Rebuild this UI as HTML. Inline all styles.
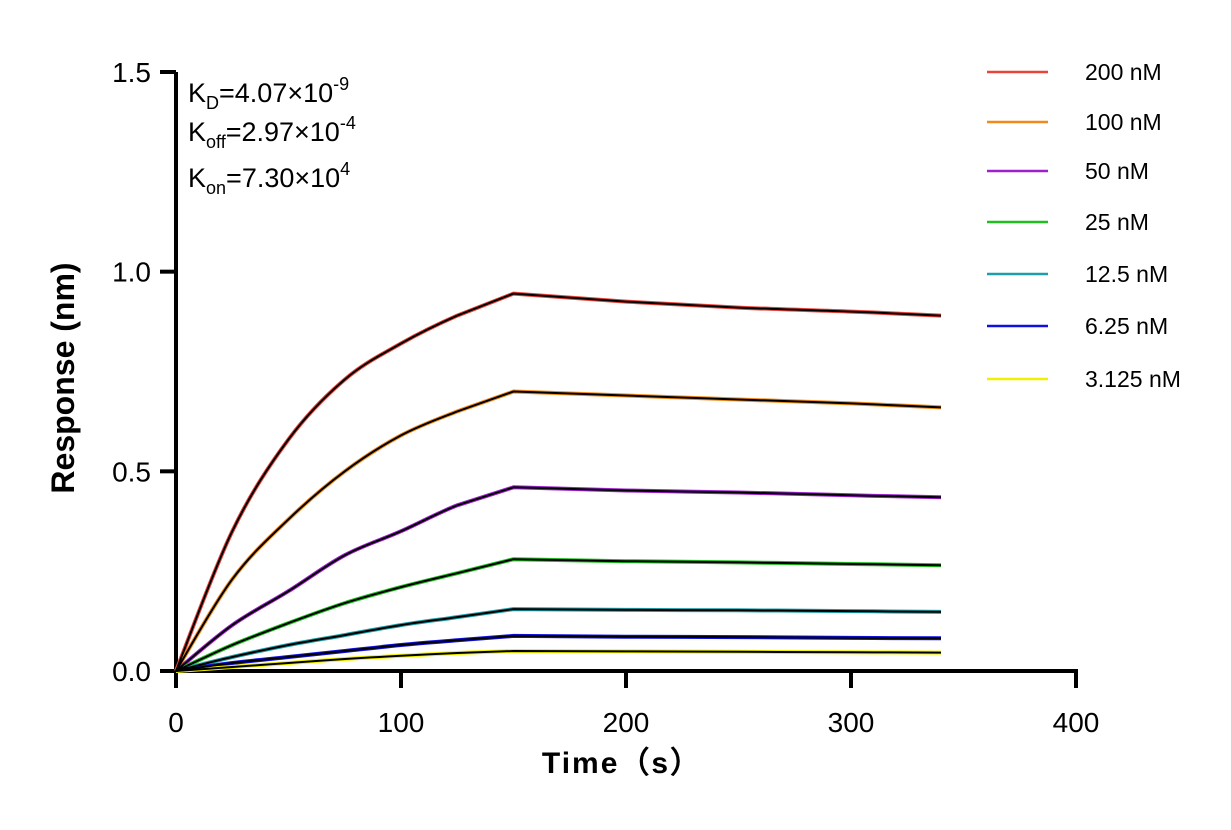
<!DOCTYPE html>
<html><head><meta charset="utf-8"><style>
body{margin:0;background:#fff;}
svg text{font-family:"Liberation Sans",Arial,sans-serif;}
</style></head><body>
<svg id="chart" width="1231" height="825" viewBox="0 0 1231 825">
<g id="axes"></g>
<g id="series"></g>
<g id="legend"></g>
<g font-size="27" fill="#000">
<text x="188" y="102">K<tspan font-size="18" dy="7">D</tspan><tspan dy="-7">=4.07×10</tspan><tspan font-size="18" dy="-12">-9</tspan></text>
<text x="188" y="141">K<tspan font-size="18" dy="7">off</tspan><tspan dy="-7">=2.97×10</tspan><tspan font-size="18" dy="-12">-4</tspan></text>
<text x="188" y="187">K<tspan font-size="18" dy="7">on</tspan><tspan dy="-7">=7.30×10</tspan><tspan font-size="18" dy="-12">4</tspan></text>
</g>
<text x="74" y="378" transform="rotate(-90 74 378)" text-anchor="middle" font-size="32" font-weight="bold">Response (nm)</text>
<text x="622" y="773" text-anchor="middle" font-size="30" font-weight="bold" letter-spacing="2">Time（s）</text>
</svg>
<script>
const times = [0,25,50,75,100,125,150,200,250,300,340];
const labels = ["200 nM","100 nM","50 nM","25 nM","12.5 nM","6.25 nM","3.125 nM"];
const colors = ["#e8443a","#f08a1c","#a020d0","#1fbf1f","#1e9ea8","#1010e0","#f0f000"];
const s200 = [0,0.35,0.58,0.73,0.82,0.89,0.945,0.925,0.91,0.90,0.89];
const s100 = [0,0.23,0.38,0.50,0.59,0.65,0.70,0.69,0.68,0.67,0.66];
const s50 = [0,0.115,0.20,0.29,0.35,0.415,0.46,0.452,0.447,0.44,0.435];
const s25 = [0,0.065,0.12,0.17,0.21,0.245,0.28,0.275,0.272,0.268,0.265];
const s12 = [0,0.035,0.065,0.09,0.115,0.135,0.155,0.153,0.152,0.15,0.148];
const s6 = [0,0.02,0.035,0.05,0.065,0.077,0.088,0.086,0.085,0.083,0.082];
const s3 = [0,0.01,0.02,0.03,0.038,0.045,0.05,0.049,0.048,0.047,0.046];
const allSeries = [s200,s100,s50,s25,s12,s6,s3];
const xTicks = [0,100,200,300,400];
const yTicks = [0.0,0.5,1.0,1.5];
const NS="http://www.w3.org/2000/svg";
const X = t => 176 + t*(900/400);
const Y = v => 671 - v*(599/1.5);
function mk(tag, attrs, parent){const e=document.createElementNS(NS,tag);for(const k in attrs)e.setAttribute(k,attrs[k]);parent.appendChild(e);return e;}
const axes=document.getElementById('axes');
let a=mk('line',{x1:176,y1:Y(1.5),x2:176,y2:673,stroke:'#000','stroke-width':4},axes);


a=mk('line',{x1:174,y1:671,x2:X(400)+2,y2:671,stroke:'#000','stroke-width':4},axes);


yTicks.forEach(v=>{
 const t=mk('line',{x1:160,y1:Y(v),x2:176,y2:Y(v),stroke:'#000','stroke-width':4},axes);
 
 
 const l=mk('text',{x:151,y:Y(v)+10,'text-anchor':'end','font-size':28},axes);
 l.textContent=v.toFixed(1);
 
 
});
xTicks.forEach(v=>{
 const t=mk('line',{x1:X(v),y1:671,x2:X(v),y2:688,stroke:'#000','stroke-width':4},axes);
 
 
 const l=mk('text',{x:X(v),y:732,'text-anchor':'middle','font-size':28},axes);
 l.textContent=String(v);
 
 
});
const sg=document.getElementById('series');
function pathFor(vals){
 const pts=vals.map((v,i)=>[X(times[i]),Y(v)]);
 let d='M'+pts[0][0].toFixed(1)+','+pts[0][1].toFixed(1);
 for(let i=0;i<pts.length-1;i++){
  const p1=pts[i],p2=pts[i+1];
  if(i===5||i===6){d+=' L'+p2[0].toFixed(1)+','+p2[1].toFixed(1);continue;}
  const p0=pts[Math.max(0,i-1)],p3=pts[Math.min(pts.length-1,i+2)];
  const c1=[p1[0]+(p2[0]-p0[0])/6,p1[1]+(p2[1]-p0[1])/6];
  const c2=[p2[0]-(p3[0]-p1[0])/6,p2[1]-(p3[1]-p1[1])/6];
  d+=' C'+c1.map(n=>n.toFixed(1)).join(',')+' '+c2.map(n=>n.toFixed(1)).join(',')+' '+p2.map(n=>n.toFixed(1)).join(',');
 }
 return d;
}
allSeries.forEach((vals,i)=>{
 const p=mk('path',{d:pathFor(vals),fill:'none',stroke:colors[i],'stroke-width':4,'stroke-linejoin':'round'},sg);
 
 
});
allSeries.forEach((vals,i)=>{
 const p=mk('path',{d:pathFor(vals),fill:'none',stroke:'#000','stroke-width':2,'stroke-linejoin':'round'},sg);
 
 
});
const lg=document.getElementById('legend');
labels.forEach((lab,i)=>{
 const y=[72,122,171,222,274,326,379][i];
 const l=mk('line',{x1:987,y1:y,x2:1048,y2:y,stroke:colors[i],'stroke-width':2.5},lg);
 
 
 const t=mk('text',{x:1085,y:y+8,'font-size':23},lg);
 t.textContent=lab;
 
 
});
</script>
</body></html>
